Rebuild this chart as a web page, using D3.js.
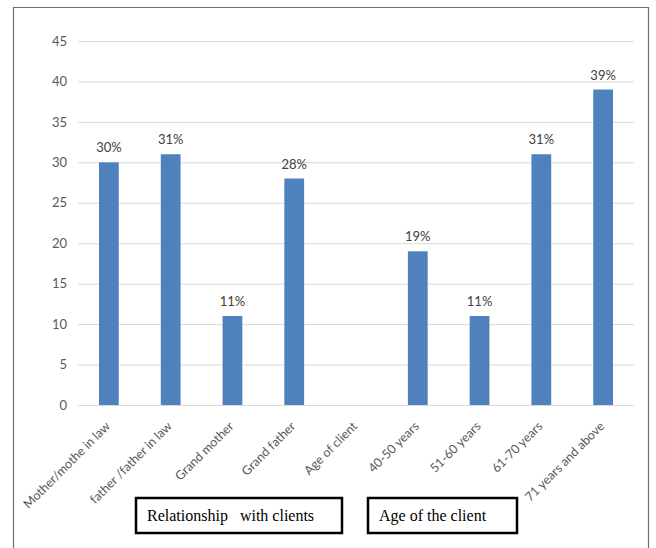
<!DOCTYPE html>
<html>
<head>
<meta charset="utf-8">
<script src="https://cdn.jsdelivr.net/npm/d3@7"></script>
<style>
  html, body { margin: 0; padding: 0; background: #fff; }
  svg { display: block; }
</style>
</head>
<body>
<svg id="chart" width="656" height="548"></svg>
<script>
// Categories along the x axis (the "Age of client" slot is a separator with no bar)
const categories = [
  "Mother/mothe in law",
  "father /father in law",
  "Grand mother",
  "Grand father",
  "Age of client",
  "40-50 years",
  "51-60 years",
  "61-70 years",
  "71 years and above"
];
// Percentages for each category (null = no bar)
const values = [30, 31, 11, 28, null, 19, 11, 31, 39];
// Y axis tick values
const yTicks = [0, 5, 10, 15, 20, 25, 30, 35, 40, 45];
// Group captions shown in boxes beneath the axis
const groupLabels = ["Relationship   with clients", "Age of the client"];

const svg = d3.select("#chart");
const W = 656, H = 548;
const sans = "Lato, 'Liberation Sans', Arial, sans-serif";

// outer frame
svg.append("path")
  .attr("d", `M13.5,${H} L13.5,7.5 L648.5,7.5 L648.5,${H}`)
  .attr("fill", "none")
  .attr("stroke", "#6f6f6f")
  .attr("stroke-width", 1.2);

const plot = { left: 78, right: 634, top: 41, bottom: 405 };

const x = d3.scaleBand()
  .domain(categories)
  .range([plot.left, plot.right])
  .paddingInner(0.68)
  .paddingOuter(0.34);

const y = d3.scaleLinear()
  .domain([0, 45])
  .range([plot.bottom, plot.top]);

// horizontal gridlines and y tick labels
const yAxis = d3.axisLeft(y)
  .tickValues(yTicks)
  .tickSize(-(plot.right - plot.left))
  .tickPadding(11)
  .tickFormat(d3.format("d"));

const gy = svg.append("g")
  .attr("transform", `translate(${plot.left},0)`)
  .call(yAxis);
gy.select(".domain").remove();
gy.selectAll(".tick line")
  .attr("stroke", "#d9d9d9")
  .attr("stroke-width", 1);
gy.selectAll(".tick text")
  .attr("fill", "#595959")
  .style("font-family", sans)
  .style("font-size", "13px");

// baseline
svg.append("line")
  .attr("x1", plot.left).attr("x2", plot.right)
  .attr("y1", y(0) + 0.5).attr("y2", y(0) + 0.5)
  .attr("stroke", "#d9d9d9");

const data = categories.map((c, i) => ({ cat: c, v: values[i] }));
const barData = data.filter(d => d.v != null);

// bars
svg.append("g").selectAll("rect")
  .data(barData)
  .join("rect")
  .attr("x", d => x(d.cat))
  .attr("width", x.bandwidth())
  .attr("y", d => y(d.v))
  .attr("height", d => y(0) - y(d.v))
  .attr("fill", "#4f81bd");

// value labels
svg.append("g").selectAll("text")
  .data(barData)
  .join("text")
  .attr("x", d => x(d.cat) + x.bandwidth() / 2)
  .attr("y", d => y(d.v) - 10)
  .attr("text-anchor", "middle")
  .attr("fill", "#404040")
  .style("font-family", sans)
  .style("font-size", "13px")
  .text(d => d.v + "%");

// rotated category labels
const xAxis = d3.axisBottom(x).tickSize(0).tickPadding(0);
const gx = svg.append("g")
  .attr("transform", `translate(0,${plot.bottom})`)
  .call(xAxis);
gx.select(".domain").remove();
gx.selectAll(".tick text")
  .attr("fill", "#595959")
  .style("font-family", sans)
  .style("font-size", "12.5px")
  .attr("text-anchor", "end")
  .attr("dy", null)
  .attr("y", 0)
  .attr("transform", "translate(2,22) rotate(-45)");

// group caption boxes
const boxes = [
  { x: 136, y: 498, w: 206, h: 35 },
  { x: 368, y: 498, w: 149, h: 35 }
];
boxes.forEach((b, i) => {
  svg.append("rect")
    .attr("x", b.x).attr("y", b.y)
    .attr("width", b.w).attr("height", b.h)
    .attr("fill", "#fff")
    .attr("stroke", "#000")
    .attr("stroke-width", 2.5);
  svg.append("text")
    .attr("x", b.x + 11)
    .attr("y", b.y + 23)
    .attr("fill", "#000")
    .style("font-family", "'Times New Roman', 'Liberation Serif', serif")
    .style("font-size", "16px")
    .style("white-space", "pre")
    .text(groupLabels[i]);
});
</script>
</body>
</html>
